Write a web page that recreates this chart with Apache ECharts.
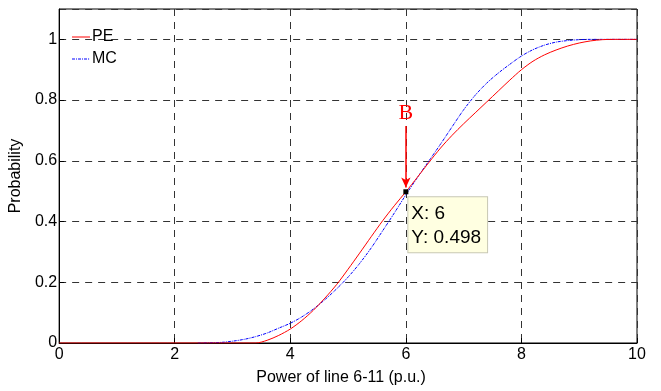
<!DOCTYPE html>
<html>
<head>
<meta charset="utf-8">
<script src="https://cdn.jsdelivr.net/npm/echarts@6/dist/echarts.min.js"></script>
<style>
  html, body { margin: 0; padding: 0; background: #fff; }
  #chart { width: 661px; height: 391px; }
</style>
</head>
<body>
<div id="chart"></div>
<script>
// Cumulative probability of line 6-11 power: point-estimate (PE) vs Monte Carlo (MC)
const peX = [0, 3.4, 3.6, 3.8, 4.0, 4.2, 4.4, 4.6, 4.8, 5.0, 5.2, 5.4, 5.6, 5.8, 6.0, 6.2, 6.4, 6.6, 6.8, 7.0, 7.2, 7.4, 7.6, 7.8, 8.0, 8.2, 8.4, 8.6, 8.8, 9.0, 9.2, 9.4, 9.6, 10];
const peY = [0, 0, 0.009, 0.025, 0.046, 0.074, 0.108, 0.148, 0.192, 0.243, 0.296, 0.35, 0.403, 0.452, 0.498, 0.546, 0.595, 0.642, 0.684, 0.722, 0.758, 0.794, 0.83, 0.866, 0.9, 0.928, 0.949, 0.965, 0.978, 0.988, 0.995, 0.999, 1.0, 1.0];

const mcX = [2.4, 2.8, 3.0, 3.2, 3.4, 3.6, 3.8, 4.0, 4.2, 4.4, 4.6, 4.8, 5.0, 5.2, 5.4, 5.6, 5.8, 6.0, 6.2, 6.4, 6.6, 6.8, 7.0, 7.2, 7.4, 7.6, 7.8, 8.0, 8.2, 8.4, 8.6, 8.8, 9.0, 9.2, 10];
const mcY = [0, 0.002, 0.006, 0.012, 0.021, 0.033, 0.049, 0.065, 0.086, 0.112, 0.143, 0.178, 0.217, 0.262, 0.313, 0.37, 0.428, 0.488, 0.545, 0.6, 0.655, 0.712, 0.768, 0.816, 0.856, 0.889, 0.918, 0.945, 0.966, 0.981, 0.991, 0.996, 0.999, 1.0, 1.0];

const xTicks = [0, 2, 4, 6, 8, 10];
const yTicks = [0, 0.2, 0.4, 0.6, 0.8, 1];

// data tip at point B
const tipX = 6;
const tipY = 0.498;
const arrowFrom = 0.715;
const arrowTo = 0.512;

const pair = (xs, ys) => xs.map((x, i) => [x, ys[i]]);
const font = 'Liberation Sans, Arial, sans-serif';

// legend swatches: a solid stroke and a dash-dot stroke
const solidIcon = 'path://M0,0H18V1H0Z';
const dashDotIcon = 'path://M0,0H3V1H0Z M4,0H5V1H4Z M6,0H9V1H6Z M10,0H11V1H10Z M12,0H15V1H12Z M16,0H17V1H16Z M17.9,0H18V1H17.9Z';

const chart = echarts.init(document.getElementById('chart'), null, { renderer: 'canvas' });
chart.setOption({
  animation: false,
  backgroundColor: '#fff',
  grid: { left: 59, right: 24, top: 9, bottom: 42, show: true, borderColor: '#000', borderWidth: 1 },
  legend: {
    left: 67, top: 24, orient: 'vertical', itemGap: 6, itemWidth: 18, itemHeight: 1,
    textStyle: { fontFamily: font, fontSize: 16, color: '#000', padding: [0, 0, 0, -3] },
    data: [{ name: 'PE', icon: solidIcon }, { name: 'MC', icon: dashDotIcon }]
  },
  xAxis: {
    type: 'value', min: xTicks[0], max: xTicks[xTicks.length - 1], interval: 2,
    name: 'Power of line 6-11 (p.u.)', nameLocation: 'middle', nameGap: 27,
    nameTextStyle: { fontFamily: font, fontSize: 16, color: '#000', padding: [0, 14, 0, 0] },
    axisLine: { lineStyle: { color: '#000', width: 1 } },
    axisTick: { inside: true, length: 5, lineStyle: { color: '#000' } },
    axisLabel: { fontFamily: font, fontSize: 16, color: '#000', margin: 4 },
    splitLine: { show: true, lineStyle: { color: '#333', type: [7, 6], width: 1 } }
  },
  yAxis: {
    type: 'value', min: 0, max: 1.1, interval: 0.2,
    name: 'Probability', nameLocation: 'middle', nameGap: 28,
    nameTextStyle: { fontFamily: font, fontSize: 16, color: '#000' },
    axisLine: { show: true, lineStyle: { color: '#000', width: 1 } },
    axisTick: { inside: true, length: 5, lineStyle: { color: '#000' } },
    axisLabel: {
      fontFamily: font, fontSize: 16, color: '#000', margin: 2, showMaxLabel: false,
      formatter: v => (yTicks.some(t => Math.abs(t - v) < 1e-9) ? String(+v.toFixed(1)) : '')
    },
    splitLine: { show: true, lineStyle: { color: '#333', type: [7, 6], width: 1 } }
  },
  series: [
    {
      name: 'PE', type: 'line', data: pair(peX, peY), smooth: 0.3,
      symbol: 'none', showSymbol: false,
      lineStyle: { color: '#ff0000', width: 1 }, itemStyle: { color: '#ff0000' }, z: 3,
      markLine: {
        silent: true, animation: false,
        lineStyle: { color: '#ff0000', width: 1.5, type: 'solid' },
        symbol: ['none', 'arrow'], symbolSize: [7, 10],
        label: {
          show: true, position: 'start', formatter: 'B', distance: 2,
          fontFamily: 'Liberation Serif, Times New Roman, serif', fontSize: 22, color: '#ff0000'
        },
        data: [[{ coord: [tipX, arrowFrom] }, { coord: [tipX, arrowTo] }]]
      },
      markPoint: {
        silent: true, animation: false,
        symbol: 'rect', symbolSize: 5, itemStyle: { color: '#000' },
        label: {
          show: true, position: [5, 8], formatter: 'X: ' + tipX + '\nY: ' + tipY,
          fontFamily: font, fontSize: 19, lineHeight: 24, color: '#000',
          backgroundColor: '#ffffe1', borderColor: '#c8c8b4', borderWidth: 1,
          padding: [4, 6, 3, 3], align: 'left', verticalAlign: 'top'
        },
        data: [{ coord: [tipX, tipY] }]
      }
    },
    {
      name: 'MC', type: 'line', data: pair(mcX, mcY), smooth: 0.3,
      symbol: 'none', showSymbol: false,
      lineStyle: { color: '#0000ff', width: 1, type: [3, 1, 1, 1] }, itemStyle: { color: '#0000ff' }, z: 2
    }
  ]
});
</script>
</body>
</html>
